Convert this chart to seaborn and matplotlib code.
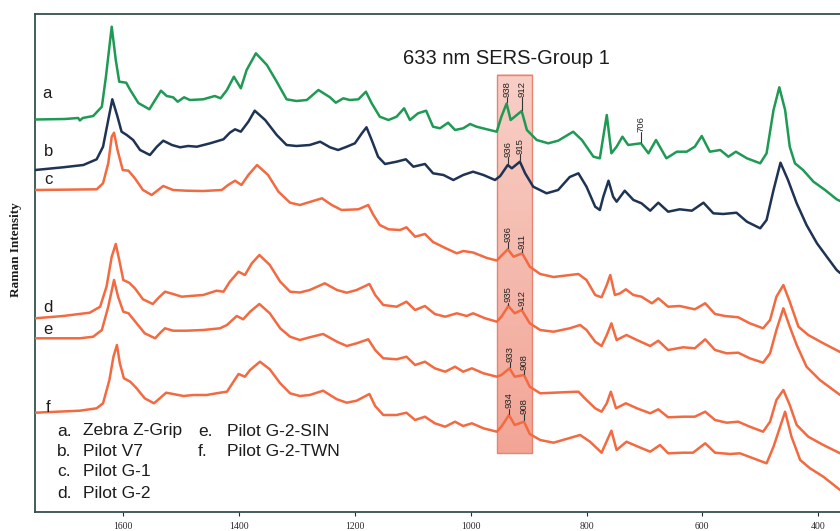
import numpy as np
import pandas as pd
import matplotlib
matplotlib.use("Agg")
import matplotlib.pyplot as plt
import seaborn as sns
from matplotlib.colors import LinearSegmentedColormap
from matplotlib.patches import Rectangle

# ---------------------------------------------------------------------------
# SERS spectra (633 nm excitation): Raman shift in cm-1, intensity in a.u.
# Each trace already carries its vertical stacking offset.
# ---------------------------------------------------------------------------
a_shift = [1752, 1701, 1678, 1675, 1670, 1652, 1637, 1630, 1620, 1613,
           1607, 1595, 1588, 1574, 1555, 1535, 1525, 1514, 1506, 1495,
           1485, 1462, 1442, 1432, 1421, 1409, 1397, 1387, 1371, 1352,
           1335, 1318, 1301, 1283, 1263, 1243, 1233, 1220, 1209, 1194,
           1181, 1171, 1157, 1142, 1128, 1115, 1105, 1091, 1077, 1065,
           1053, 1039, 1027, 1013, 1001, 990, 972, 955, 947, 938,
           931, 912, 903, 886, 866, 849, 823, 808, 788, 777,
           765, 757, 748, 738, 728, 706, 693, 680, 662, 644,
           627, 613, 601, 587, 569, 555, 542, 523, 500, 489,
           477, 467, 457, 449, 440, 426, 408, 388, 368, 362]
a_int = [392.5, 393, 394, 391.5, 394, 396, 405.3, 435.3, 485.3, 452,
         430.3, 429.3, 422, 409, 402.7, 421.3, 416, 414.7, 410.3, 414.7,
         412, 412.7, 416, 413.7, 422, 435.3, 423.7, 442, 458.7, 447,
         430.3, 412.7, 411, 412, 422, 414.7, 409.3, 413.7, 412, 412.7,
         420.3, 408.7, 395.3, 392, 395.3, 403.7, 392, 398.7, 401.3, 385.3,
         383.7, 389.3, 382, 383.7, 388, 385.3, 382.7, 380.3, 395.3, 408.5,
         392, 401, 382, 372, 368.7, 371.3, 380.3, 372, 355.3, 353.7,
         397, 358.7, 365.3, 375.3, 367, 368.7, 358.7, 372, 353.7, 360.3,
         360.3, 365.3, 376, 360.3, 362, 355.3, 360.3, 353.7, 348.7, 358.7,
         402, 424.7, 402, 365.3, 348.7, 342, 330.3, 322, 312.7, 311]

b_shift = [1752, 1704, 1669, 1646, 1635, 1626, 1619, 1610, 1603, 1594,
           1583, 1571, 1554, 1542, 1531, 1516, 1502, 1488, 1473, 1450,
           1427, 1416, 1407, 1397, 1384, 1373, 1355, 1335, 1318, 1301,
           1278, 1260, 1243, 1229, 1214, 1200, 1188, 1180, 1171, 1160,
           1148, 1128, 1112, 1099, 1079, 1065, 1047, 1030, 1013, 996,
           978, 958, 949, 936, 929, 915, 906, 892, 869, 849,
           829, 814, 800, 785, 777, 771, 762, 754, 748, 734,
           719, 705, 690, 676, 659, 639, 618, 598, 581, 564,
           541, 523, 500, 489, 477, 465, 452, 437, 420, 402,
           385, 368, 362]
b_int = [342, 344.7, 347, 352.7, 365.3, 392, 412.7, 395.3, 380.3, 377,
         372, 362, 357, 365.3, 371.3, 367, 364.7, 366, 365.3, 368.7,
         372.7, 379.3, 382.7, 380.3, 390.3, 401.3, 392, 377, 367, 366,
         367, 370.3, 364.7, 362, 365.3, 368.7, 378.7, 384.7, 372, 355.3,
         348, 350.3, 352.7, 345.3, 348, 338.7, 337, 332, 337, 340.3,
         337, 332, 336, 347, 343.7, 350.3, 338.7, 325.3, 318.7, 322,
         335, 338.7, 325.3, 305.3, 302, 315.3, 331.3, 315.3, 310.3, 321.3,
         312, 308.7, 301.3, 309.3, 300.3, 302.7, 301.3, 309.3, 298.7, 298,
         299.3, 290.3, 283.7, 292, 322, 349.3, 332, 308.7, 287, 268.7,
         255.3, 242, 239]

c_shift = [1752, 1646, 1635, 1626, 1620, 1616, 1610, 1601, 1591, 1580,
           1566, 1551, 1531, 1514, 1491, 1462, 1430, 1419, 1407, 1396,
           1384, 1369, 1350, 1332, 1312, 1295, 1257, 1240, 1223, 1194,
           1177, 1168, 1157, 1142, 1122, 1111, 1096, 1079, 1065, 1044,
           1024, 1013, 996, 972, 955, 936, 926, 911, 898, 880,
           857, 814, 800, 785, 774, 765, 759, 751, 742, 732,
           719, 705, 687, 676, 659, 639, 613, 595, 578, 561,
           538, 518, 495, 483, 472, 460, 449, 434, 417, 391,
           362]
c_int = [322, 322.7, 328.7, 348.7, 375.3, 379.3, 362, 342, 341.3, 333.7,
         322, 317, 326, 322, 321.3, 321, 322, 327, 331.3, 327,
         337, 347, 337, 320.3, 309.3, 307, 313.7, 307, 302, 302.7,
         307, 297, 287, 282.7, 282, 284.7, 275.3, 278, 270, 264,
         258.7, 261, 259.5, 254, 251.5, 262.7, 255.3, 258.7, 245.3, 238,
         235, 238, 232, 217, 214.7, 227, 237, 217, 218.7, 222.7,
         217, 215.3, 208.7, 213.7, 205.3, 206, 202.7, 208.7, 198, 196,
         194.7, 188.7, 183.7, 192, 215.3, 227, 210.3, 185.3, 177, 168.7,
         160]

d_shift = [1752, 1704, 1658, 1640, 1629, 1620, 1613, 1607, 1600, 1590,
           1580, 1566, 1549, 1540, 1528, 1514, 1499, 1485, 1462, 1439,
           1427, 1416, 1401, 1390, 1378, 1365, 1347, 1329, 1312, 1295,
           1278, 1252, 1231, 1214, 1197, 1175, 1165, 1151, 1128, 1111,
           1096, 1079, 1062, 1044, 1024, 1007, 996, 975, 955, 947,
           935, 924, 912, 898, 880, 857, 829, 811, 800, 785,
           774, 765, 757, 748, 731, 713, 690, 676, 659, 633,
           613, 595, 578, 558, 538, 518, 495, 483, 472, 460,
           449, 437, 420, 397, 362]
d_int = [193.7, 196, 199.3, 205.3, 225.3, 255.3, 268, 252, 232, 229.3,
         223.7, 212.7, 208, 213.7, 220.3, 218, 215.3, 216, 217, 221.3,
         220.3, 230.3, 240.3, 237, 248.7, 257, 247, 230.3, 220.3, 219.5,
         222, 228.7, 222, 219.3, 222, 228, 217, 207, 205.3, 210.3,
         202, 206, 198, 195.3, 198.7, 196, 198.7, 193.7, 190.3, 195.3,
         206, 198.7, 202, 188.7, 182, 180.3, 183.7, 187, 182, 170.3,
         166, 177, 188.7, 172, 177, 172, 166, 171.3, 162, 164.7,
         163.7, 172.7, 162, 158.7, 159.3, 153.7, 149.3, 158.7, 182, 203.7,
         185.3, 167, 145.3, 132, 117]

e_shift = [1752, 1675, 1652, 1637, 1626, 1616, 1609, 1600, 1591, 1577,
           1563, 1545, 1537, 1528, 1514, 1491, 1462, 1433, 1421, 1404,
           1393, 1381, 1365, 1347, 1329, 1312, 1295, 1278, 1255, 1231,
           1214, 1197, 1177, 1165, 1151, 1128, 1111, 1096, 1079, 1062,
           1044, 1027, 1013, 998, 978, 955, 947, 933, 924, 908,
           898, 880, 857, 829, 814, 800, 785, 774, 765, 758,
           749, 732, 713, 690, 676, 659, 633, 613, 595, 578,
           558, 538, 518, 495, 483, 472, 460, 449, 437, 417,
           391, 362]
e_int = [173.7, 173.7, 175.3, 182, 205.3, 232, 215.3, 200.3, 198.7, 188.7,
         178.7, 173.7, 178.7, 183.7, 181.3, 181.3, 182, 183.7, 187, 196,
         192.7, 200.3, 208, 198.7, 183.7, 175.3, 172, 174.7, 178, 170.3,
         166, 168.7, 172.7, 162, 153.7, 152.7, 155.3, 147, 150.3, 143.7,
         140.3, 145.3, 140.3, 143.7, 138.7, 135.3, 137, 143.7, 135.3, 137,
         125.3, 118.7, 119.3, 120, 120.3, 112, 103.7, 100.3, 108.7, 120.3,
         103.7, 108.7, 103.7, 98.7, 102.7, 94.7, 95.3, 95.3, 100.3, 92,
         89.3, 90.3, 85.3, 80.3, 90.3, 112, 122, 107, 87, 75.3,
         67, 58.7]

f_shift = [1752, 1675, 1646, 1635, 1624, 1617, 1611, 1606, 1599, 1588,
           1577, 1563, 1547, 1537, 1526, 1514, 1496, 1479, 1456, 1433,
           1421, 1401, 1390, 1381, 1364, 1347, 1329, 1312, 1295, 1278,
           1255, 1231, 1214, 1197, 1175, 1165, 1151, 1128, 1111, 1096,
           1079, 1062, 1044, 1027, 1013, 998, 978, 955, 947, 934,
           924, 908, 898, 880, 857, 811, 794, 774, 757, 748,
           731, 711, 690, 673, 659, 633, 616, 595, 578, 552,
           535, 512, 489, 477, 457, 446, 431, 414, 391, 362]
f_int = [99.3, 101.3, 103.7, 108.7, 132, 155.3, 167, 148.7, 133.7, 130.3,
         123.7, 113.7, 108.7, 113.7, 119.3, 118, 116, 117, 117, 119.3,
         120.3, 138, 135.3, 142, 150.3, 142.7, 128.7, 118.7, 116, 117,
         121.3, 112.7, 109.3, 111.3, 118, 106, 97, 97, 99.3, 92,
         95.3, 88.7, 85.3, 90.3, 86, 88.7, 83.7, 80.3, 85.3, 97,
         87, 90.3, 78, 72, 69.3, 77, 70.3, 59.3, 81.3, 62,
         70.3, 65.3, 60.3, 67, 58.7, 59.3, 59.3, 68.7, 59.3, 58,
         58.7, 53.7, 48.7, 65.3, 100.3, 75.3, 52, 43.7, 35.3, 22]

SAMPLE_KEYS = ["a", "b", "c", "d", "e", "f"]
SAMPLE_NAMES = ["Zebra Z-Grip", "Pilot V7", "Pilot G-1", "Pilot G-2",
                "Pilot G-2-SIN", "Pilot G-2-TWN"]
# Marked band positions (cm-1) per sample
PEAK_LABELS = {"a": [938, 912, 706], "b": [936, 915], "c": [936, 911],
               "d": [935, 912], "e": [933, 908], "f": [934, 908]}
X_TICKS = [1600, 1400, 1200, 1000, 800, 600, 400]
X_TICK_LABELS = ["1600", "1400", "1200", "1000", "800", "600", "400"]
TITLE = "633 nm SERS-Group 1"
Y_LABEL = "Raman Intensity"

# ---------------------------------------------------------------------------
# Styling / layout
# ---------------------------------------------------------------------------
GREEN, NAVY, CORAL = "#1e9a54", "#1f3354", "#f36a41"
PALETTE = {"a": GREEN, "b": NAVY, "c": CORAL, "d": CORAL, "e": CORAL, "f": CORAL}
W, H = 840, 531
XLIM = (1752.5, 362.2)
YLIM = (0, 498)
BAND = (894, 955, 58.7, 437)          # shift range and height of the highlight box
STEMS = {("a", 938): 5.5, ("a", 912): 13, ("a", 706): 10,
         ("b", 936): 7, ("b", 915): 6.5,
         ("c", 936): 6, ("c", 911): 2.5,
         ("d", 935): 2, ("d", 912): 2,
         ("e", 933): 5, ("e", 908): 4,
         ("f", 934): 5, ("f", 908): 6.5}
LETTER_POS = {"a": (47, 93), "b": (49, 152), "c": (48, 180),
              "d": (48, 307), "e": (48, 330), "f": (48, 407)}
LEGEND_POS = [(57, 83, 431), (57, 83, 452), (57, 83, 472), (57, 83, 494),
              (198, 227, 431), (198, 227, 452)]


def fig_xy(px, py):
    return px / W, 1 - py / H


sns.set_style("white")
plt.rcParams["font.family"] = ["Liberation Sans", "DejaVu Sans"]

series = {"a": (a_shift, a_int), "b": (b_shift, b_int), "c": (c_shift, c_int),
          "d": (d_shift, d_int), "e": (e_shift, e_int), "f": (f_shift, f_int)}
df = pd.concat([pd.DataFrame({"shift": s, "intensity": i, "sample": k})
                for k, (s, i) in series.items()], ignore_index=True)

fig = plt.figure(figsize=(W / 100, H / 100), dpi=100)
ax = fig.add_axes([35 / W, (H - 512) / H, (W - 35) / W, 498 / H])

# highlight band behind the traces (vertical pink gradient)
grad = np.linspace(0, 1, 256)[:, None]
band_cmap = LinearSegmentedColormap.from_list("band", ["#f8cfc7", "#f2a595"])
ax.imshow(grad, extent=(BAND[1], BAND[0], BAND[2], BAND[3]), origin="upper",
          aspect="auto", cmap=band_cmap, interpolation="bilinear", zorder=1)
ax.add_patch(Rectangle((BAND[0], BAND[2]), BAND[1] - BAND[0], BAND[3] - BAND[2],
                       fill=False, edgecolor="#e8836f", lw=1.0, zorder=2))

sns.lineplot(data=df, x="shift", y="intensity", hue="sample", palette=PALETTE,
             estimator=None, sort=False, legend=False, linewidth=1.8,
             solid_joinstyle="round", solid_capstyle="round",
             ax=ax, zorder=3)

# peak markers with rotated wavenumber labels
for key, peaks in PEAK_LABELS.items():
    xs = np.asarray(series[key][0], dtype=float)
    ys = np.asarray(series[key][1], dtype=float)
    for w in peaks:
        top = ys[np.argmin(np.abs(xs - w))]
        stem = STEMS[(key, w)]
        ax.plot([w, w], [top + 1.5, top + stem + 1.5], color="#333333",
                lw=0.8, zorder=4)
        ax.text(w, top + stem + 1.5, str(w), rotation=90, ha="center",
                va="bottom", fontsize=6.8, color="#222222", zorder=5)

ax.set_xlim(*XLIM)
ax.set_ylim(*YLIM)
ax.set_xticks(X_TICKS)
ax.set_xticklabels(X_TICK_LABELS, family=["Liberation Serif", "DejaVu Serif"])
ax.set_yticks([])
ax.set_xlabel("")
ax.set_ylabel("")
ax.tick_params(axis="x", direction="out", length=3, width=0.8, pad=4,
               labelsize=7, colors="#2b2b2b", bottom=True)
for side in ("left", "top", "bottom"):
    ax.spines[side].set_color("#35504f")
    ax.spines[side].set_linewidth(1.3)
ax.spines["right"].set_visible(False)

# title, trace letters, sample key, axis label
fig.text(*fig_xy(403, 58), TITLE, ha="left", va="center", fontsize=14.5,
         color="#1c1c1c")
for key in SAMPLE_KEYS:
    fig.text(*fig_xy(*LETTER_POS[key]), key, ha="center", va="center",
             fontsize=12, color="#1c1c1c")
for key, name, (xk, xn, y) in zip(SAMPLE_KEYS, SAMPLE_NAMES, LEGEND_POS):
    fig.text(*fig_xy(xk, y), key + ".", ha="left", va="center",
             fontsize=12.5, color="#1c1c1c")
    fig.text(*fig_xy(xn, y), name, ha="left", va="center",
             fontsize=12.5, color="#1c1c1c")
fig.text(*fig_xy(16, 250), Y_LABEL, rotation=90, ha="center", va="center",
         fontsize=9.5, fontweight="bold",
         family=["Liberation Serif", "DejaVu Serif"], color="#1c1c1c")

fig.savefig("out.png", dpi=100)
